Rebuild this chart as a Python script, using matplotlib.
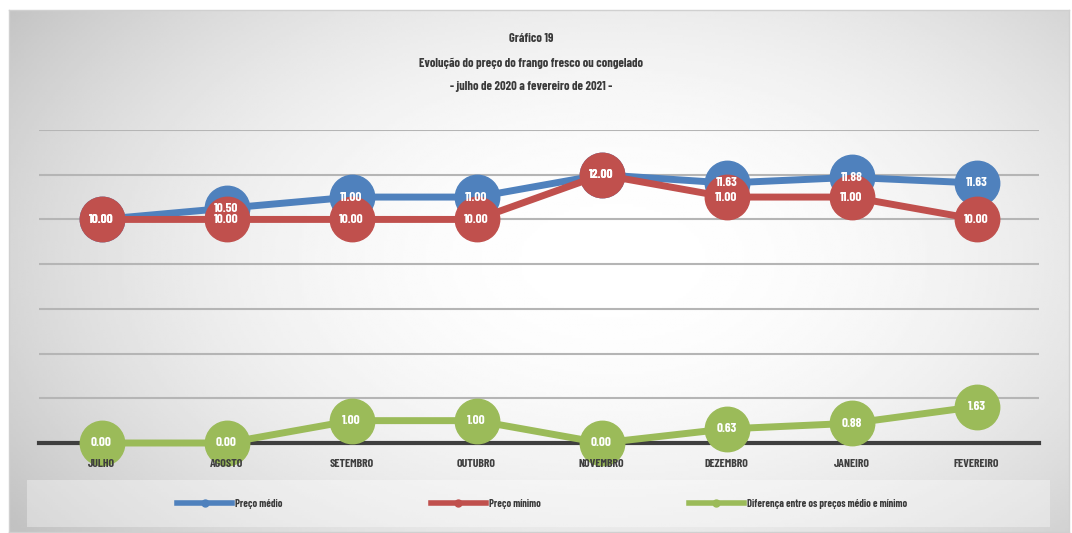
import numpy as np
import matplotlib.pyplot as plt
from matplotlib.lines import Line2D
from matplotlib.patches import Rectangle

plt.rcParams['font.family'] = ['Barlow Condensed', 'DejaVu Sans']
plt.rcParams['font.weight'] = 'bold'

# ---- Data ----
meses = ['JULHO', 'AGOSTO', 'SETEMBRO', 'OUTUBRO', 'NOVEMBRO', 'DEZEMBRO', 'JANEIRO', 'FEVEREIRO']
preco_medio = [10.00, 10.50, 11.00, 11.00, 12.00, 11.63, 11.88, 11.63]
preco_minimo = [10.00, 10.00, 10.00, 10.00, 12.00, 11.00, 11.00, 10.00]
diferenca = [0.00, 0.00, 1.00, 1.00, 0.00, 0.63, 0.88, 1.63]

nomes = ['Preço médio', 'Preço mínimo', 'Diferença entre os preços médio e mínimo']
cores = ['#4F81BD', '#C0504D', '#9BBB59']
titulo = ['Gráfico 19',
          'Evolução do preço do frango fresco ou congelado',
          '- julho de 2020 a fevereiro de 2021 -']

fig = plt.figure(figsize=(10.72, 5.33), dpi=100)
fig.patch.set_facecolor('white')

# ---- Background panel with radial gradient ----
bg = fig.add_axes([9 / 1072, 1 / 533, 1060 / 1072, 522 / 533])
gx, gy = np.meshgrid(np.linspace(0, 1, 400), np.linspace(0, 1, 200))
r = np.sqrt(((gx - 0.57) / 0.5) ** 2 + ((gy - 0.48) / 0.62) ** 2)
val = 1 - 0.24 * np.clip(r, 0, 1.4) ** 2 / 1.96
bg.imshow(val, cmap='gray', vmin=0, vmax=1, aspect='auto', extent=[0, 1, 1, 0])
bg.set_xlim(0, 1)
bg.set_ylim(1, 0)
bg.set_xticks([])
bg.set_yticks([])
for s in bg.spines.values():
    s.set_color('#d0d0d0')
    s.set_linewidth(1)

# legend box
fig.patches.append(Rectangle((27 / 1072, 6 / 533), 1023 / 1072, 47 / 533,
                             transform=fig.transFigure, facecolor='white',
                             alpha=0.35, edgecolor='none', zorder=1))

# ---- Title ----
for i, t in enumerate(titulo):
    fig.text(531 / 1072, 1 - (39 + 24 * i) / 533, t, ha='center', va='center',
             fontsize=9, color='#3a3a3a', fontweight='bold')

# ---- Main plot ----
ax = fig.add_axes([39 / 1072, 1 - 443 / 533, 1000 / 1072, 313 / 533])
ax.patch.set_alpha(0)
x = np.arange(len(meses))
ax.set_xlim(-0.5, len(meses) - 0.5)
ax.set_ylim(0, 14)
ax.set_yticks(np.arange(2, 15, 2))
ax.yaxis.grid(True, color='#b5b5b5', linewidth=1.5)
ax.set_axisbelow(True)
ax.tick_params(left=False, labelleft=False, bottom=False, labelbottom=False)
for k in ['top', 'left', 'right']:
    ax.spines[k].set_visible(False)
ax.spines['bottom'].set_color('#3f3f3f')
ax.spines['bottom'].set_linewidth(3)

for j, (vals, c) in enumerate(zip([preco_medio, preco_minimo, diferenca], cores)):
    ax.plot(x, vals, color=c, linewidth=5, marker='o', markersize=32,
            markeredgecolor=c, clip_on=False, zorder=3 + j)

for vals in [preco_medio, preco_minimo, diferenca]:
    for i, v in enumerate(vals):
        ax.text(i, v, f'{v:.2f}', ha='center', va='center', color='white',
                fontsize=9.5, fontweight='bold', zorder=10, clip_on=False)

for i, m in enumerate(meses):
    ax.annotate(m, (i, 0), xytext=(0, -15), textcoords='offset points',
                ha='center', va='center', fontsize=8.5, color='#3f3f3f',
                fontweight='bold', zorder=11, annotation_clip=False)

# ---- Legend ----
handles = [Line2D([], [], color=c, linewidth=4, marker='o', markersize=5)
           for c in cores]
fig.legend(handles, nomes, loc='center', bbox_to_anchor=(542 / 1072, 1 - 504 / 533),
           ncol=3, frameon=False, fontsize=7.5, handlelength=5.3, handletextpad=0.3,
           columnspacing=14.2, labelcolor='#3a3a3a')

fig.savefig('out.png', dpi=100)
